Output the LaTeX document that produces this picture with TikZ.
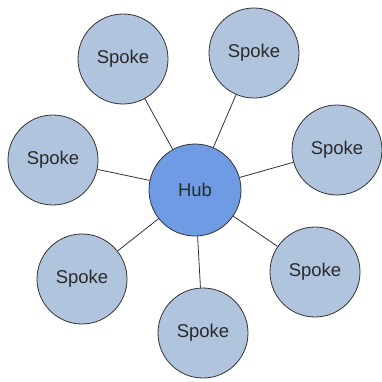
\documentclass[tikz,border=0pt]{standalone}
\usepackage{fontspec}
\setmainfont{Liberation Sans}
\definecolor{spokefill}{HTML}{B0C4DE}
\definecolor{hubfill}{HTML}{6E9BE3}
\definecolor{edge}{HTML}{333333}
\definecolor{txt}{HTML}{2A2A2A}
\begin{document}
\begin{tikzpicture}[x=1pt,y=-1pt,
  spokenode/.style={circle,draw=edge,line width=0.8pt,fill=spokefill,text=txt,minimum size=90pt,inner sep=0pt,font=\fontsize{18.5}{20}\selectfont},
  hubnode/.style={circle,draw=edge,line width=0.8pt,fill=hubfill,text=txt,minimum size=92pt,inner sep=0pt,font=\fontsize{18.5}{20}\selectfont},
  link/.style={draw=edge,line width=0.8pt}]
\useasboundingbox (0,0) rectangle (382,381);
\node[hubnode] (hub) at (195,190) {Hub};
\node[spokenode] (s1) at (123,59) {Spoke};
\node[spokenode] (s2) at (254,53) {Spoke};
\node[spokenode] (s3) at (53,160) {Spoke};
\node[spokenode] (s4) at (337,150) {Spoke};
\node[spokenode] (s5) at (82,279) {Spoke};
\node[spokenode] (s6) at (315,272) {Spoke};
\node[spokenode] (s7) at (203,333) {Spoke};
\foreach \s in {s1,s2,s3,s4,s5,s6,s7} \draw[link] (hub) -- (\s);
\end{tikzpicture}
\end{document}
